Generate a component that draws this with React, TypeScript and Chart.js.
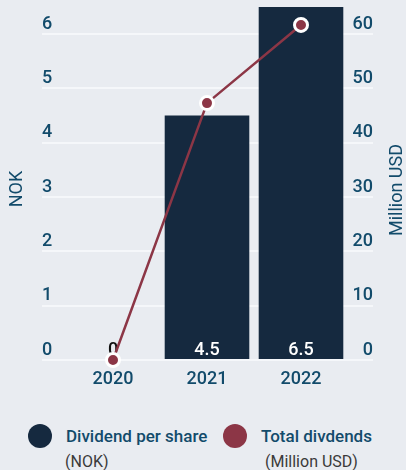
import React, { useEffect, useRef } from "react";
import { Chart, registerables } from "chart.js";

Chart.register(...registerables);

const years = ["2020", "2021", "2022"];
const dividendPerShare = [0, 4.5, 6.5];
const totalDividends = [0, 47.3, 61.7];
const leftTicks = [0, 1, 2, 3, 4, 5, 6];
const rightTicks = [0, 10, 20, 30, 40, 50, 60];

const BG = "#e9ecf1";
const TEXT = "#124b6b";
const BAR = "#15293f";
const LINE = "#8c3646";
const GRID = "#f5f7fa";
const FONT = "Roboto";
const W = 500;

const overlayPlugin = {
  id: "overlay",
  afterDatasetDraw(chart: any, args: any) {
    if (args.index !== 1) return;
    const ctx = chart.ctx;
    const meta = chart.getDatasetMeta(1);
    const y0 = chart.scales.y.getPixelForValue(0);
    ctx.save();
    ctx.font = `${W} 18px ${FONT}`;
    ctx.textAlign = "center";
    ctx.textBaseline = "middle";
    meta.data.forEach((el: any, i: number) => {
      const v = dividendPerShare[i];
      ctx.fillStyle = v > 0 ? "#ffffff" : "#111111";
      ctx.fillText(String(v), el.x, y0 - 10);
    });
    ctx.restore();
  },
  afterDraw(chart: any) {
    const ctx = chart.ctx;
    const drawTitle = (text: string, x: number, y: number) => {
      ctx.save();
      ctx.font = `18px ${FONT}`;
      ctx.fillStyle = TEXT;
      ctx.textAlign = "center";
      ctx.textBaseline = "middle";
      ctx.translate(x, y);
      ctx.rotate(-Math.PI / 2);
      ctx.fillText(text, 0, 0);
      ctx.restore();
    };
    drawTitle("NOK", 17, 189);
    drawTitle("Million USD", 397, 190);
  },
};

export default function App() {
  const ref = useRef<HTMLCanvasElement>(null);

  useEffect(() => {
    if (!ref.current) return;
    const tickFont = { family: FONT, size: 18, weight: W };
    const chart = new Chart(ref.current, {
      type: "bar",
      data: {
        labels: years,
        datasets: [
          {
            type: "line",
            label: "Total divdends",
            data: totalDividends,
            yAxisID: "y1",
            borderColor: LINE,
            backgroundColor: LINE,
            borderWidth: 2.5,
            pointRadius: 6.5,
            pointBorderWidth: 3,
            pointBorderColor: "#ffffff",
            pointBackgroundColor: LINE,
            tension: 0,
            clip: false,
            order: 0,
          } as any,
          {
            type: "bar",
            label: "Dividend per share",
            data: dividendPerShare,
            yAxisID: "y",
            backgroundColor: BAR,
            barPercentage: 0.9,
            categoryPercentage: 1,
            order: 1,
          },
        ],
      },
      options: {
        animation: false,
        responsive: false,
        maintainAspectRatio: false,
        devicePixelRatio: 1,
        layout: { autoPadding: false, padding: { top: 7, left: 42, right: 33, bottom: 0 } },
        plugins: {
          legend: { display: false },
          tooltip: { enabled: false },
        },
        scales: {
          x: {
            grid: { display: false, drawTicks: false },
            border: { display: false },
            ticks: {
              color: TEXT,
              font: tickFont,
              padding: 9,
              maxRotation: 0,
            },
            afterFit: (s: any) => {
              s.height = 40;
              s.paddingLeft = 0;
              s.paddingRight = 0;
            },
          },
          y: {
            position: "left",
            min: 0,
            max: 6.5,
            grid: { color: GRID, lineWidth: 2, drawTicks: true, tickLength: 24 },
            border: { display: false },
            ticks: {
              color: TEXT,
              font: tickFont,
              crossAlign: "far",
              labelOffset: -10,
              padding: 0,
            },
            afterBuildTicks: (s: any) => {
              s.ticks = leftTicks.map((v) => ({ value: v }));
            },
            afterFit: (s: any) => {
              s.width = 24;
              s.paddingTop = 0;
              s.paddingBottom = 0;
            },
          },
          y1: {
            position: "right",
            min: 0,
            max: 65,
            grid: {
              color: GRID,
              lineWidth: 2,
              drawOnChartArea: false,
              drawTicks: true,
              tickLength: 25,
            },
            border: { display: false },
            ticks: {
              color: TEXT,
              font: tickFont,
              crossAlign: "far",
              labelOffset: -10,
              padding: 0,
            },
            afterBuildTicks: (s: any) => {
              s.ticks = rightTicks.map((v) => ({ value: v }));
            },
            afterFit: (s: any) => {
              s.width = 25;
              s.paddingTop = 0;
              s.paddingBottom = 0;
            },
          },
        },
      } as any,
      plugins: [overlayPlugin],
    });
    return () => chart.destroy();
  }, []);

  const legendText: React.CSSProperties = {
    position: "absolute",
    fontFamily: FONT,
    fontWeight: W,
    fontSize: 17,
    color: TEXT,
    lineHeight: "20px",
    whiteSpace: "nowrap",
  };
  const subText: React.CSSProperties = {
    position: "absolute",
    fontFamily: FONT,
    fontSize: 16,
    color: "#3a3a3a",
    lineHeight: "18px",
    whiteSpace: "nowrap",
  };
  const dot = (color: string, cx: number): React.CSSProperties => ({
    position: "absolute",
    left: cx - 12,
    top: 424,
    width: 24,
    height: 24,
    borderRadius: "50%",
    background: color,
  });

  return (
    <div
      style={{
        position: "absolute",
        left: 0,
        top: 0,
        width: 406,
        height: 470,
        background: BG,
        overflow: "hidden",
      }}
    >
      <canvas
        ref={ref}
        width={406}
        height={400}
        style={{ position: "absolute", left: 0, top: 0, width: 406, height: 400 }}
      />
      <div style={dot(BAR, 40)} />
      <div style={{ ...legendText, left: 66, top: 426 }}>Dividend per share</div>
      <div style={{ ...subText, left: 65, top: 453 }}>(NOK)</div>
      <div style={dot(LINE, 235)} />
      <div style={{ ...legendText, left: 261, top: 426 }}>Total divdends</div>
      <div style={{ ...subText, left: 265, top: 453 }}>(Million USD)</div>
    </div>
  );
}
